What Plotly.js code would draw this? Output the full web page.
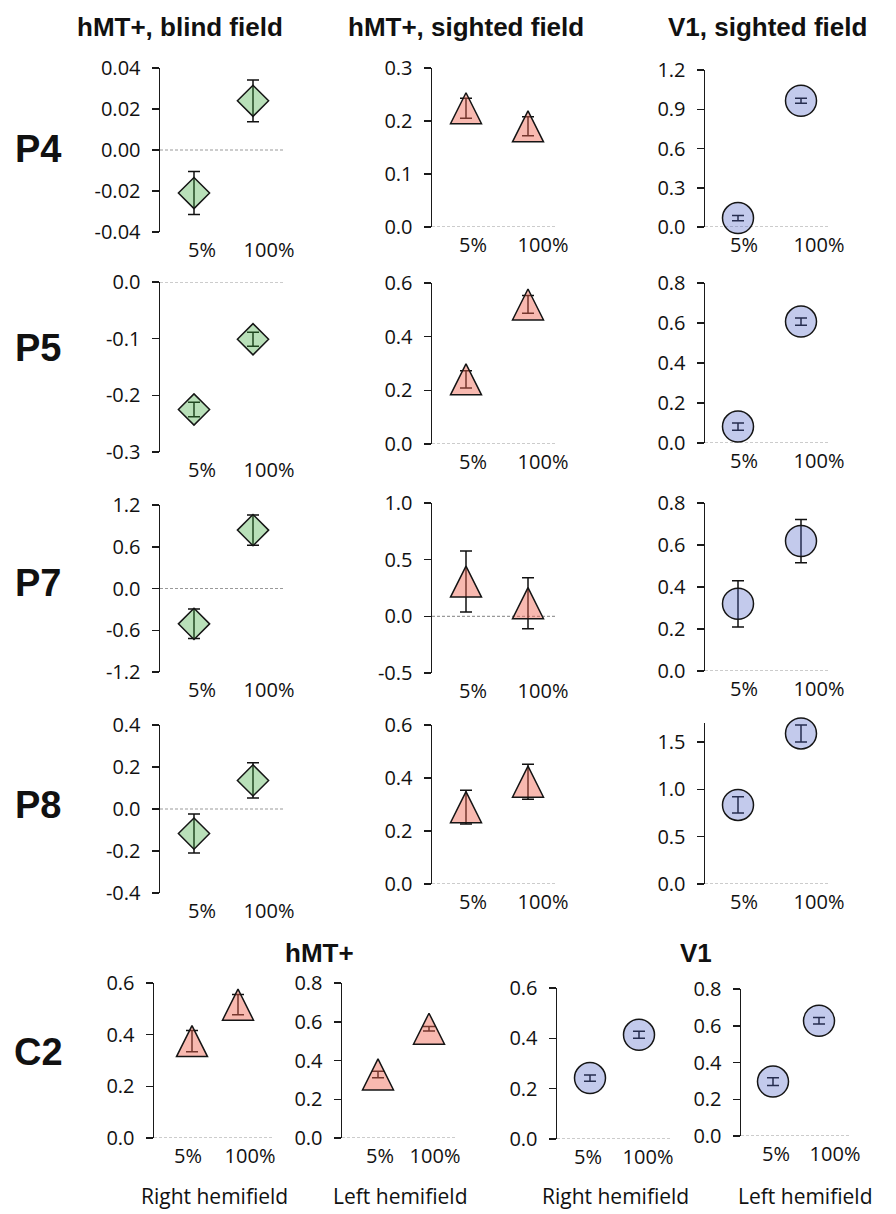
<!DOCTYPE html>
<html><head><meta charset="utf-8">
<script src="https://cdn.plot.ly/plotly-3.0.1.min.js"></script>
<style>html,body{margin:0;padding:0;background:#fff}#chart{width:896px;height:1214px}</style>
</head><body><div id="chart"></div>
<script>
// ---------- DATA ----------
const categories = ['5%', '100%'];
const subjects = ['P4', 'P5', 'P7', 'P8', 'C2'];
const columnTitles = ['hMT+, blind field', 'hMT+, sighted field', 'V1, sighted field'];
const groupTitles = ['hMT+', 'V1'];
const hemifieldLabels = ['Right hemifield', 'Left hemifield', 'Right hemifield', 'Left hemifield'];

const p4_mtBlind_mean = [-0.021, 0.024];   const p4_mtBlind_err = [0.0105, 0.0102];
const p4_mtSighted_mean = [0.224, 0.190];  const p4_mtSighted_err = [0.019, 0.018];
const p4_v1Sighted_mean = [0.068, 0.965];  const p4_v1Sighted_err = [0.020, 0.019];
const p5_mtBlind_mean = [-0.225, -0.101];  const p5_mtBlind_err = [0.013, 0.0125];
const p5_mtSighted_mean = [0.241, 0.520];  const p5_mtSighted_err = [0.032, 0.033];
const p5_v1Sighted_mean = [0.082, 0.607];  const p5_v1Sighted_err = [0.018, 0.018];
const p7_mtBlind_mean = [-0.508, 0.839];   const p7_mtBlind_err = [0.212, 0.216];
const p7_mtSighted_mean = [0.307, 0.116];  const p7_mtSighted_err = [0.269, 0.225];
const p7_v1Sighted_mean = [0.320, 0.619];  const p7_v1Sighted_err = [0.110, 0.103];
const p8_mtBlind_mean = [-0.117, 0.136];   const p8_mtBlind_err = [0.093, 0.084];
const p8_mtSighted_mean = [0.290, 0.386];  const p8_mtSighted_err = [0.064, 0.066];
const p8_v1Sighted_mean = [0.835, 1.590];  const p8_v1Sighted_err = [0.085, 0.090];
const c2_mtRight_mean = [0.375, 0.516];    const c2_mtRight_err = [0.041, 0.039];
const c2_mtLeft_mean = [0.328, 0.564];     const c2_mtLeft_err = [0.017, 0.012];
const c2_v1Right_mean = [0.242, 0.414];    const c2_v1Right_err = [0.0125, 0.014];
const c2_v1Left_mean = [0.296, 0.627];     const c2_v1Left_err = [0.021, 0.018];

// y tick values per panel
const ticks_p4_mtBlind = [-0.04, -0.02, 0, 0.02, 0.04];
const ticks_p4_mtSighted = [0, 0.1, 0.2, 0.3];
const ticks_p4_v1 = [0, 0.3, 0.6, 0.9, 1.2];
const ticks_p5_mtBlind = [-0.3, -0.2, -0.1, 0];
const ticks_p5_mtSighted = [0, 0.2, 0.4, 0.6];
const ticks_p5_v1 = [0, 0.2, 0.4, 0.6, 0.8];
const ticks_p7_mtBlind = [-1.2, -0.6, 0, 0.6, 1.2];
const ticks_p7_mtSighted = [-0.5, 0, 0.5, 1.0];
const ticks_p7_v1 = [0, 0.2, 0.4, 0.6, 0.8];
const ticks_p8_mtBlind = [-0.4, -0.2, 0, 0.2, 0.4];
const ticks_p8_mtSighted = [0, 0.2, 0.4, 0.6];
const ticks_p8_v1 = [0, 0.5, 1.0, 1.5];
const ticks_c2_mtRight = [0, 0.2, 0.4, 0.6];
const ticks_c2_mtLeft = [0, 0.2, 0.4, 0.6, 0.8];
const ticks_c2_v1Right = [0, 0.2, 0.4, 0.6];
const ticks_c2_v1Left = [0, 0.2, 0.4, 0.6, 0.8];

// ---------- STYLES & LAYOUT GEOMETRY ----------
const W = 896, H = 1214;
const TRI = 31; // triangle marker size (px)
const styles = {
  diamond: {symbol: 'diamond', size: 24, color: 'rgba(60,170,60,0.36)'},
  tri: {symbol: 'arrow-up', size: TRI, color: 'rgba(240,100,80,0.45)', shift: TRI / 2},
  circ: {symbol: 'circle', size: 31, color: 'rgba(80,100,200,0.34)'}
};
const colX = [
  {ax: 160, end: 283, p1: 194, p2: 253, l1: 202, l2: 269},
  {ax: 432, end: 557, p1: 466, p2: 528, l1: 473, l2: 543},
  {ax: 705, end: 830, p1: 738, p2: 801, l1: 744, l2: 819}
];
const c2X = [
  {ax: 154, end: 273, p1: 192, p2: 238, l1: 188, l2: 250},
  {ax: 342, end: 455, p1: 378, p2: 429, l1: 380, l2: 435},
  {ax: 557, end: 670, p1: 590, p2: 639, l1: 588, l2: 648},
  {ax: 741, end: 850, p1: 773, p2: 819, l1: 776, l2: 835}
];
const rowY = [
  [[68, 232], [68, 227], [70, 227]],
  [[282, 452], [283, 444], [283, 443]],
  [[505, 672], [503, 673], [503, 671]],
  [[725, 893], [725, 884], [723, 884]]
];
const c2Y = [[983, 1138], [983, 1138], [988, 1139], [989, 1136]];

const panels = [
  {m: p4_mtBlind_mean, e: p4_mtBlind_err, t: ticks_p4_mtBlind, s: 'diamond', x: colX[0], y: rowY[0][0], dec: 2},
  {m: p4_mtSighted_mean, e: p4_mtSighted_err, t: ticks_p4_mtSighted, s: 'tri', x: colX[1], y: rowY[0][1], dec: 1},
  {m: p4_v1Sighted_mean, e: p4_v1Sighted_err, t: ticks_p4_v1, s: 'circ', x: colX[2], y: rowY[0][2], dec: 1},
  {m: p5_mtBlind_mean, e: p5_mtBlind_err, t: ticks_p5_mtBlind, s: 'diamond', x: colX[0], y: rowY[1][0], dec: 1},
  {m: p5_mtSighted_mean, e: p5_mtSighted_err, t: ticks_p5_mtSighted, s: 'tri', x: colX[1], y: rowY[1][1], dec: 1},
  {m: p5_v1Sighted_mean, e: p5_v1Sighted_err, t: ticks_p5_v1, s: 'circ', x: colX[2], y: rowY[1][2], dec: 1},
  {m: p7_mtBlind_mean, e: p7_mtBlind_err, t: ticks_p7_mtBlind, s: 'diamond', x: colX[0], y: rowY[2][0], dec: 1},
  {m: p7_mtSighted_mean, e: p7_mtSighted_err, t: ticks_p7_mtSighted, s: 'tri', x: colX[1], y: rowY[2][1], dec: 1},
  {m: p7_v1Sighted_mean, e: p7_v1Sighted_err, t: ticks_p7_v1, s: 'circ', x: colX[2], y: rowY[2][2], dec: 1},
  {m: p8_mtBlind_mean, e: p8_mtBlind_err, t: ticks_p8_mtBlind, s: 'diamond', x: colX[0], y: rowY[3][0], dec: 1},
  {m: p8_mtSighted_mean, e: p8_mtSighted_err, t: ticks_p8_mtSighted, s: 'tri', x: colX[1], y: rowY[3][1], dec: 1},
  {m: p8_v1Sighted_mean, e: p8_v1Sighted_err, t: ticks_p8_v1, s: 'circ', x: colX[2], y: rowY[3][2], dec: 1, top: 1.7},
  {m: c2_mtRight_mean, e: c2_mtRight_err, t: ticks_c2_mtRight, s: 'tri', x: c2X[0], y: c2Y[0], dec: 1},
  {m: c2_mtLeft_mean, e: c2_mtLeft_err, t: ticks_c2_mtLeft, s: 'tri', x: c2X[1], y: c2Y[1], dec: 1},
  {m: c2_v1Right_mean, e: c2_v1Right_err, t: ticks_c2_v1Right, s: 'circ', x: c2X[2], y: c2Y[2], dec: 1},
  {m: c2_v1Left_mean, e: c2_v1Left_err, t: ticks_c2_v1Left, s: 'circ', x: c2X[3], y: c2Y[3], dec: 1}
];

const tickFont = {family: 'Open Sans, DejaVu Sans, sans-serif', size: 20, color: '#111'};
const errTraces = [];
const markTraces = [];
const layout = {
  width: W, height: H, margin: {l: 0, r: 0, t: 0, b: 0},
  paper_bgcolor: '#fff', plot_bgcolor: 'rgba(0,0,0,0)', showlegend: false,
  shapes: [], annotations: []
};

panels.forEach((p, i) => {
  const n = i + 1;
  const xs = categories.map((c, k) => k + 1);
  const g = p.x;
  const unit = g.p2 - g.p1;
  const xr = [1 - (g.p1 - g.ax) / unit, 1 + (g.end - g.p1) / unit];
  const st = styles[p.s];
  const ymin = p.t[0], ymax = (p.top !== undefined) ? p.top : p.t[p.t.length - 1];
  const yDomain = [1 - p.y[1] / H, 1 - p.y[0] / H];

  // error bars (drawn beneath the markers)
  errTraces.push({
    type: 'scatter', mode: 'markers', x: xs, y: p.m,
    xaxis: 'x' + n, yaxis: 'y' + n, cliponaxis: false, hoverinfo: 'skip',
    marker: {size: 1, color: 'rgba(0,0,0,0)'},
    error_y: {type: 'data', array: p.e, visible: true, color: '#111', thickness: 1.5, width: 6}
  });

  // markers; triangles use a twin axis raised by half the marker height so the
  // arrow-shaped triangle is centred on its value
  let markAxis = 'y' + n;
  if (st.shift) {
    const m = 40 + n;
    markAxis = 'y' + m;
    layout['yaxis' + m] = {
      domain: [yDomain[0] + st.shift / H, yDomain[1] + st.shift / H],
      range: [ymin, ymax], anchor: 'x' + n, visible: false, fixedrange: true
    };
  }
  markTraces.push({
    type: 'scatter', mode: 'markers', x: xs, y: p.m,
    xaxis: 'x' + n, yaxis: markAxis, cliponaxis: false, hoverinfo: 'skip',
    marker: {symbol: st.symbol, size: st.size, color: st.color, line: {color: '#151515', width: 1.5}}
  });

  layout['xaxis' + n] = {
    domain: [g.ax / W, g.end / W], range: xr, anchor: 'y' + n,
    showline: false, showgrid: false, zeroline: false, ticks: '',
    tickmode: 'array',
    tickvals: [1 + (g.l1 - g.p1) / unit, 2 + (g.l2 - g.p2) / unit],
    ticktext: categories, tickfont: tickFont, ticklabelstandoff: 4, fixedrange: true
  };
  layout['yaxis' + n] = {
    domain: yDomain, range: [ymin, ymax], anchor: 'x' + n,
    showline: true, linecolor: '#1a1a1a', linewidth: 1.5,
    ticks: 'outside', ticklen: 7, tickwidth: 1.5, tickcolor: '#1a1a1a',
    showgrid: false, zeroline: false, tickmode: 'array',
    tickvals: p.t, ticktext: p.t.map(v => v.toFixed(p.dec)),
    tickfont: tickFont, ticklabelstandoff: 7, fixedrange: true
  };
  layout.shapes.push({
    type: 'line', xref: 'x' + n + ' domain', x0: 0, x1: 1, yref: 'y' + n, y0: 0, y1: 0,
    line: {color: '#999', width: 1.2, dash: '3px,2px'}, layer: 'below'
  });
});

function ann(text, xpx, ypx, size, bold, family) {
  layout.annotations.push({
    text: bold ? '<b>' + text + '</b>' : text, xref: 'paper', yref: 'paper',
    x: xpx / W, y: 1 - ypx / H, xanchor: 'center', yanchor: 'middle', showarrow: false,
    font: {family: family || 'Liberation Sans, Arial, sans-serif', size: size, color: '#111'}
  });
}
const titleX = [180, 466, 767];
columnTitles.forEach((t, i) => ann(t, titleX[i], 27, 26, true));
const subjY = [149, 348, 583, 805, 1052];
subjects.forEach((s, i) => ann(s, 38, subjY[i], 38, true));
const groupX = [319, 696];
groupTitles.forEach((t, i) => ann(t, groupX[i], 953, 26, true));
const hemiX = [214, 400, 615, 805];
hemifieldLabels.forEach((t, i) => ann(t, hemiX[i], 1196, 21, false, 'Open Sans, sans-serif'));

Plotly.newPlot('chart', errTraces.concat(markTraces), layout, {staticPlot: true, displayModeBar: false});
</script>
</body></html>
